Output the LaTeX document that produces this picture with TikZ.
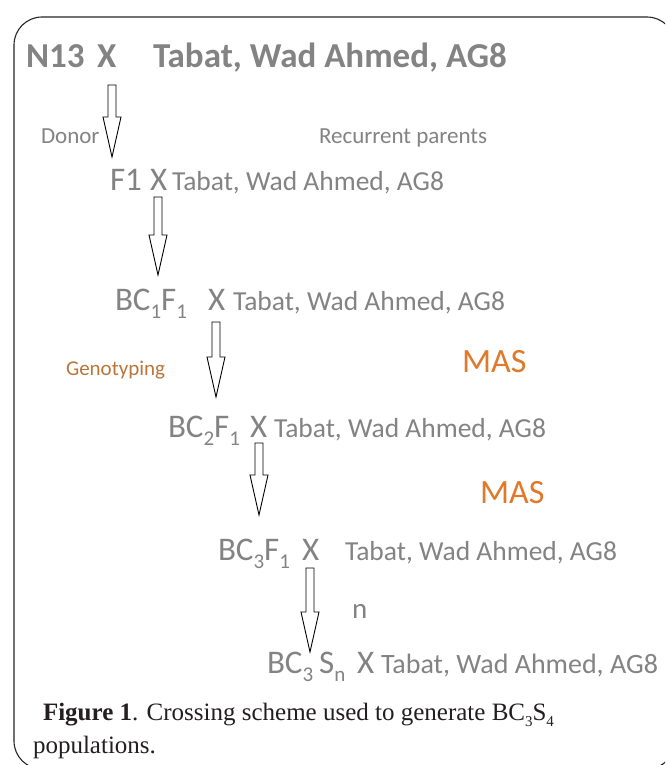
\documentclass[tikz,border=0pt]{standalone}
\usepackage{fontspec}
\setmainfont{Carlito}
\newfontfamily\capfont{Liberation Serif}
\usetikzlibrary{calc}
\definecolor{txtgray}{HTML}{838383}
\definecolor{genobrown}{HTML}{B8763A}
\definecolor{masorange}{HTML}{E07A2A}
\definecolor{capblack}{HTML}{231F20}
\newcommand{\sbs}[1]{\raisebox{-8pt}{\fontsize{21}{21}\selectfont #1}}
\newcommand{\csub}[1]{\raisebox{-6pt}{\fontsize{15}{15}\selectfont #1}}
\tikzset{
  lbl/.style={anchor=base west, inner sep=0pt, outer sep=0pt, text=txtgray},
  big/.style={lbl, font=\fontsize{33}{36}\selectfont},
  rpar/.style={lbl, font=\fontsize{27.5}{30}\selectfont},
  rparl/.style={lbl, font=\fontsize{28}{30}\selectfont},
  ttl/.style={lbl, font=\bfseries\fontsize{35}{38}\selectfont},
  side/.style={lbl, font=\fontsize{23}{26}\selectfont},
  geno/.style={lbl, text=genobrown, font=\fontsize{21}{22}\selectfont},
  mas/.style={lbl, text=masorange, font=\fontsize{34}{36}\selectfont},
  nlbl/.style={lbl, font=\fontsize{29}{30}\selectfont},
  capt/.style={lbl, text=capblack, font=\capfont\fontsize{25}{28}\selectfont},
  frame/.style={draw=black!85, line width=1.1pt, rounded corners=28pt},
  blockarrow/.style={draw=black, fill=white, line width=0.9pt, line join=miter,
    to path={let \p1=(\tikztostart), \p2=(\tikztotarget) in
      (\x1-4pt,\y1) -- (\x1+4pt,\y1) -- (\x1+4pt,\y2+40pt) -- (\x1+9pt,\y2+40pt)
      -- (\x2,\y2) -- (\x1-9pt,\y2+40pt) -- (\x1-4pt,\y2+40pt) -- cycle}},
}
\begin{document}
\begin{tikzpicture}[x=1pt, y=-1pt]
\useasboundingbox (0,0) rectangle (665,765);
\fill[white] (0,0) rectangle (665,765);
\begin{scope}
  \clip (0,0) rectangle (665,765);
  \draw[frame] (14,17) rectangle (675,769);
\end{scope}
% title row
\node[ttl] (n13) at (26,68) {N13};
\node[ttl] (x0) at (97,68) {X};
\node[ttl] (rp0) at (153,68) {Tabat, Wad Ahmed, AG8};
\node[side] (donor) at (41,143) {Donor};
\node[side] (recur) at (319,143) {Recurrent parents};
% F1 row
\node[big] (f1) at (110,190) {F1};
\node[big] (x1) at (150,190) {X};
\node[rpar] (rp1) at (172,190) {Tabat, Wad Ahmed, AG8};
% BC1F1 row
\node[big] (bc1) at (115,310) {BC\sbs{1}F\sbs{1}};
\node[big] (x2) at (208,310) {X};
\node[rpar] (rp2) at (233,310) {Tabat, Wad Ahmed, AG8};
\node[geno] (geno) at (66,375) {Genotyping};
\node[mas] (mas1) at (462,372) {MAS};
% BC2F1 row
\node[big] (bc2) at (168,437) {BC\sbs{2}F\sbs{1}};
\node[big] (x3) at (250,437) {X};
\node[rpar] (rp3) at (274,437) {Tabat, Wad Ahmed, AG8};
\node[mas] (mas2) at (480,503) {MAS};
% BC3F1 row
\node[big] (bc3) at (218,560) {BC\sbs{3}F\sbs{1}};
\node[big] (x4) at (302,560) {X};
\node[rpar] (rp4) at (345,560) {Tabat, Wad Ahmed, AG8};
\node[nlbl] (nn) at (352,618) {n};
% BC3Sn row
\node[big] (bcs) at (267,673) {BC\sbs{3}\hspace{6pt}S\sbs{n}};
\node[big] (x5) at (357,673) {X};
\node[rparl] (rp5) at (381,673) {Tabat, Wad Ahmed, AG8};
% caption
\node[capt] (cap1) at (43,720) {\textbf{Figure 1}. Crossing scheme used to generate BC\csub{3}S\csub{4}};
\node[capt] (cap2) at (33,753) {populations.};
% arrows
\coordinate (a1s) at (112,85);  \coordinate (a1e) at (112,157);
\coordinate (a2s) at (158,197); \coordinate (a2e) at (158,275);
\coordinate (a3s) at (216,322); \coordinate (a3e) at (216,397);
\coordinate (a4s) at (259,443); \coordinate (a4e) at (259,515);
\coordinate (a5s) at (310,568); \coordinate (a5e) at (310,652);
\draw[blockarrow] (a1s) to (a1e);
\draw[blockarrow] (a2s) to (a2e);
\draw[blockarrow] (a3s) to (a3e);
\draw[blockarrow] (a4s) to (a4e);
\draw[blockarrow] (a5s) to (a5e);
\end{tikzpicture}
\end{document}
